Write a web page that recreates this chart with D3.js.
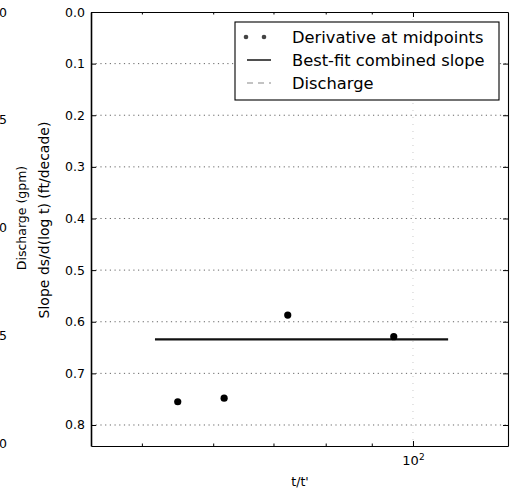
<!DOCTYPE html>
<html><head><meta charset="utf-8">
<script src="https://cdn.jsdelivr.net/npm/d3@7"></script>
<style>
body{margin:0;background:#fff}
text{font-family:"DejaVu Sans",sans-serif;fill:#000}
</style>
</head><body>
<svg id="c" width="515" height="492"></svg>
<script>
// ---- data ----
const midpointTimes  = [54.8, 61.7, 72.6, 95.2];
const midpointSlopes = [0.755, 0.748, 0.587, 0.629];
const fitTimes  = [51.7, 109.4];
const fitSlopes = [0.634, 0.634];
const slopeTicks = [0, 0.1, 0.2, 0.3, 0.4, 0.5, 0.6, 0.7, 0.8];
const dischargeTicks = [0, 5, 10, 15, 20];
const xMajorTicks = [100];
const xMinorTicks = [50, 60, 70, 80, 90];
const legendLabels = ["Derivative at midpoints", "Best-fit combined slope", "Discharge"];
const xDomain = [43.9, 127.5];
const slopeDomain = [0, 0.8407];
const dischargeDomain = [0, 20];

// ---- layout ----
const L = 91, R = 508, T = 12, B = 446;
const svg = d3.select("#c");

const x = d3.scaleLog().domain(xDomain).range([L, R]);
const y = d3.scaleLinear().domain(slopeDomain).range([T, B]);
const yd = d3.scaleLinear().domain(dischargeDomain).range([443, 12]);

// grid
svg.append("g").selectAll("line").data(slopeTicks.filter(d => d > 0)).join("line")
  .attr("x1", L).attr("x2", R).attr("y1", d => y(d)).attr("y2", d => y(d))
  .attr("stroke", "#555").attr("stroke-width", 0.9).attr("stroke-dasharray", "1.2,3.5");
svg.append("g").selectAll("line").data(xMajorTicks).join("line")
  .attr("x1", d => x(d)).attr("x2", d => x(d)).attr("y1", T).attr("y2", B)
  .attr("stroke", "#bbb").attr("stroke-width", 0.8).attr("stroke-dasharray", "1,6");

// data
svg.append("path")
  .datum(fitTimes.map((t, i) => [t, fitSlopes[i]]))
  .attr("d", d3.line().x(d => x(d[0])).y(d => y(d[1])))
  .attr("stroke", "#111").attr("stroke-width", 2.2).attr("fill", "none");
svg.append("g").selectAll("circle").data(midpointTimes.map((t, i) => [t, midpointSlopes[i]])).join("circle")
  .attr("cx", d => x(d[0])).attr("cy", d => y(d[1])).attr("r", 3.6).attr("fill", "#000");

// axes
const fs = "12.5px";
const yLeft = svg.append("g").attr("transform", `translate(${L},0)`)
  .call(d3.axisLeft(y).tickValues(slopeTicks).tickFormat(d3.format(".1f")).tickSizeInner(-5).tickSizeOuter(0).tickPadding(6));
yLeft.selectAll("text").style("font-size", fs);
const yRight = svg.append("g").attr("transform", `translate(${R},0)`)
  .call(d3.axisRight(y).tickValues(slopeTicks).tickFormat("").tickSizeInner(-5).tickSizeOuter(0));
const xBot = svg.append("g").attr("transform", `translate(0,${B})`)
  .call(d3.axisBottom(x).tickValues(xMajorTicks).tickFormat("").tickSizeInner(-5).tickSizeOuter(0));
xBot.selectAll(".tick").append("text").attr("y", 19).attr("text-anchor", "middle")
  .style("font-size", "13px")
  .each(function(d){
    const t = d3.select(this);
    t.append("tspan").text("10");
    t.append("tspan").attr("dy", -5).style("font-size", "9px").text(Math.round(Math.log10(d)));
  });
svg.append("g").attr("transform", `translate(0,${B})`)
  .call(d3.axisBottom(x).tickValues(xMinorTicks).tickFormat("").tickSizeInner(-2.5).tickSizeOuter(0))
  .select(".domain").remove();
svg.append("g").attr("transform", `translate(0,${T})`)
  .call(d3.axisTop(x).tickValues(xMajorTicks).tickFormat("").tickSizeInner(-5).tickSizeOuter(0));
svg.append("g").attr("transform", `translate(0,${T})`)
  .call(d3.axisTop(x).tickValues(xMinorTicks).tickFormat("").tickSizeInner(-2.5).tickSizeOuter(0))
  .select(".domain").remove();
svg.selectAll(".domain").attr("stroke", "#000").attr("stroke-width", 1.1);
yLeft.select(".domain").attr("stroke-width", 1.6);

// discharge twin axis (cut off at the left edge)
const dAx = svg.append("g").attr("transform", "translate(7,0)")
  .call(d3.axisLeft(yd).tickValues(dischargeTicks).tickSize(0).tickPadding(0));
dAx.select(".domain").remove();
dAx.selectAll("line").remove();
dAx.selectAll("text").style("font-size", fs);

// axis labels
svg.append("text").attr("transform", "translate(26,218) rotate(-90)")
  .attr("text-anchor", "middle").style("font-size", "12.5px").text("Discharge (gpm)");
svg.append("text").attr("transform", "translate(49,220) rotate(-90)")
  .attr("text-anchor", "middle").style("font-size", "14px").text("Slope ds/d(log t) (ft/decade)");
svg.append("text").attr("x", 300).attr("y", 486).attr("text-anchor", "middle")
  .style("font-size", "12.5px").text("t/t'");

// legend
const lg = svg.append("g");
lg.append("rect").attr("x", 235).attr("y", 22).attr("width", 264).attr("height", 78)
  .attr("fill", "#fff").attr("stroke", "#000").attr("stroke-width", 1.1);
const rowY = [37, 60, 83];
lg.selectAll("text").data(legendLabels).join("text")
  .attr("x", 292).attr("y", (d, i) => rowY[i] + 5.5).style("font-size", "16.3px").text(d => d);
lg.selectAll("circle").data([246, 264]).join("circle")
  .attr("cx", d => d).attr("cy", rowY[0]).attr("r", 2.3).attr("fill", "#444");
lg.append("line").attr("x1", 247).attr("x2", 271).attr("y1", rowY[1]).attr("y2", rowY[1])
  .attr("stroke", "#222").attr("stroke-width", 1.6);
lg.append("line").attr("x1", 247).attr("x2", 271).attr("y1", rowY[2]).attr("y2", rowY[2])
  .attr("stroke", "#888").attr("stroke-width", 1.2).attr("stroke-dasharray", "6,5");
</script>
</body></html>
